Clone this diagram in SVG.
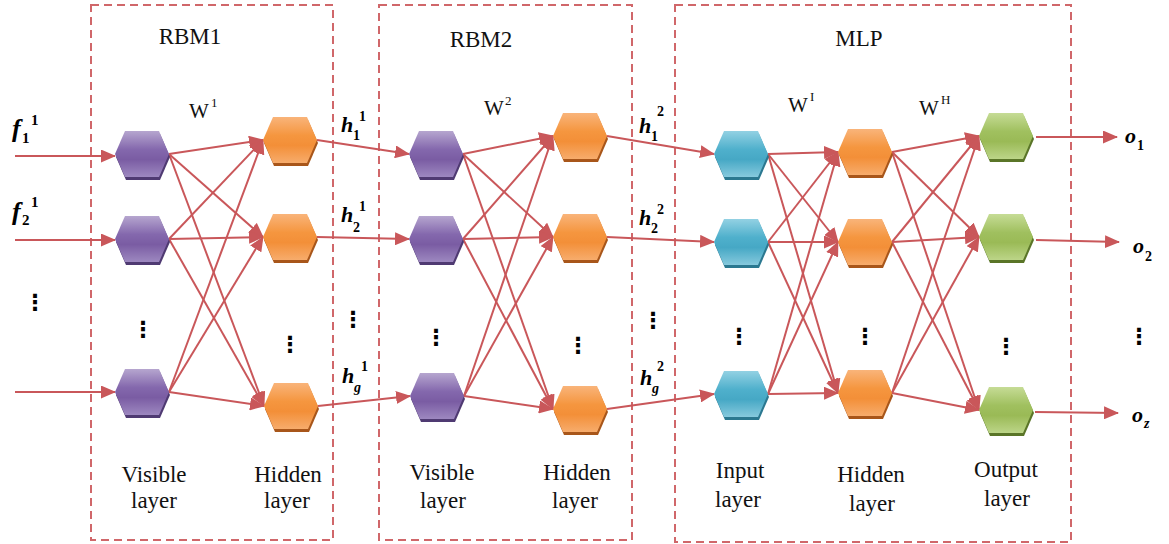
<svg xmlns="http://www.w3.org/2000/svg" width="1169" height="544" viewBox="0 0 1169 544">
<defs>
<style>
.box{fill:none;stroke:#d0676a;stroke-width:2;stroke-dasharray:8 5}
.ln{stroke:#c9575a;stroke-width:2;fill:none;marker-end:url(#ah)}
.t{font-size:23px;fill:#111;text-anchor:middle}
.w{font-size:21px;fill:#111}
.ws{font-size:13px}
.bi{font-weight:bold;font-style:italic;fill:#000}
.bs{font-weight:bold;font-style:normal;fill:#000}
.dots{font-weight:bold;font-size:22px;fill:#000;text-anchor:middle}
</style>
<marker id="ah" viewBox="0 0 15 13" refX="14" refY="6.5" markerWidth="15" markerHeight="13" markerUnits="userSpaceOnUse" orient="auto"><path d="M0,0 L15,6.5 L0,13 Z" fill="#c9575a"/></marker>
<path id="hex" d="M-27,0 L-17,-23 L17,-23 L27,0 L17,23 L-17,23 Z"/>
<linearGradient id="gP" x1="0" y1="0" x2="0" y2="1"><stop offset="0" stop-color="#b6a6cf"/><stop offset="0.4" stop-color="#8468ad"/><stop offset="0.62" stop-color="#7a5ca3"/><stop offset="1" stop-color="#9d88c0"/></linearGradient>
<linearGradient id="gO" x1="0" y1="0" x2="0" y2="1"><stop offset="0" stop-color="#f9b47a"/><stop offset="0.4" stop-color="#f5963f"/><stop offset="0.62" stop-color="#f38f38"/><stop offset="1" stop-color="#f7ac6c"/></linearGradient>
<linearGradient id="gC" x1="0" y1="0" x2="0" y2="1"><stop offset="0" stop-color="#93d1e3"/><stop offset="0.4" stop-color="#4fb0cc"/><stop offset="0.62" stop-color="#46a8c5"/><stop offset="1" stop-color="#86c9dd"/></linearGradient>
<linearGradient id="gG" x1="0" y1="0" x2="0" y2="1"><stop offset="0" stop-color="#c6dc96"/><stop offset="0.4" stop-color="#a0c05f"/><stop offset="0.62" stop-color="#9aba56"/><stop offset="1" stop-color="#bcd588"/></linearGradient>
<g id="hP"><use href="#hex" transform="translate(1,3)" fill="#4f3a72"/><use href="#hex" fill="url(#gP)"/></g>
<g id="hO"><use href="#hex" transform="translate(1,3)" fill="#a8561a"/><use href="#hex" fill="url(#gO)"/></g>
<g id="hC"><use href="#hex" transform="translate(1,3)" fill="#2b7890"/><use href="#hex" fill="url(#gC)"/></g>
<g id="hG"><use href="#hex" transform="translate(1,3)" fill="#5a7528"/><use href="#hex" fill="url(#gG)"/></g>
</defs>
<rect width="1169" height="544" fill="#fff"/>

<g id="boxes">
<rect id="rbm1-box" class="box" x="91" y="5" width="242" height="535"/>
<rect id="rbm2-box" class="box" x="379" y="5" width="253" height="535"/>
<rect id="mlp-box" class="box" x="675" y="5" width="396" height="537"/>
</g>

<g id="connectors">
<line class="ln" x1="15" y1="156" x2="115" y2="156"/>
<line class="ln" x1="15" y1="240" x2="115" y2="240"/>
<line class="ln" x1="15" y1="392" x2="115" y2="392"/>
<line class="ln" x1="169" y1="154" x2="263" y2="140"/>
<line class="ln" x1="169" y1="154" x2="263" y2="237"/>
<line class="ln" x1="169" y1="154" x2="264" y2="406"/>
<line class="ln" x1="169" y1="239" x2="263" y2="140"/>
<line class="ln" x1="169" y1="239" x2="263" y2="237"/>
<line class="ln" x1="169" y1="239" x2="264" y2="406"/>
<line class="ln" x1="169" y1="392" x2="263" y2="140"/>
<line class="ln" x1="169" y1="392" x2="263" y2="237"/>
<line class="ln" x1="169" y1="392" x2="264" y2="406"/>
<line class="ln" x1="317" y1="140" x2="409" y2="154"/>
<line class="ln" x1="317" y1="237" x2="409" y2="239"/>
<line class="ln" x1="318" y1="406" x2="410" y2="396"/>
<line class="ln" x1="463" y1="154" x2="553" y2="136"/>
<line class="ln" x1="463" y1="154" x2="553" y2="237"/>
<line class="ln" x1="463" y1="154" x2="553" y2="409"/>
<line class="ln" x1="463" y1="239" x2="553" y2="136"/>
<line class="ln" x1="463" y1="239" x2="553" y2="237"/>
<line class="ln" x1="463" y1="239" x2="553" y2="409"/>
<line class="ln" x1="464" y1="396" x2="553" y2="136"/>
<line class="ln" x1="464" y1="396" x2="553" y2="237"/>
<line class="ln" x1="464" y1="396" x2="553" y2="409"/>
<line class="ln" x1="607" y1="136" x2="714" y2="154"/>
<line class="ln" x1="607" y1="237" x2="714" y2="242"/>
<line class="ln" x1="607" y1="409" x2="714" y2="394"/>
<line class="ln" x1="768" y1="154" x2="838" y2="152"/>
<line class="ln" x1="768" y1="154" x2="838" y2="242"/>
<line class="ln" x1="768" y1="154" x2="838" y2="393"/>
<line class="ln" x1="768" y1="242" x2="838" y2="152"/>
<line class="ln" x1="768" y1="242" x2="838" y2="242"/>
<line class="ln" x1="768" y1="242" x2="838" y2="393"/>
<line class="ln" x1="768" y1="394" x2="838" y2="152"/>
<line class="ln" x1="768" y1="394" x2="838" y2="242"/>
<line class="ln" x1="768" y1="394" x2="838" y2="393"/>
<line class="ln" x1="892" y1="152" x2="979" y2="136"/>
<line class="ln" x1="892" y1="152" x2="979" y2="237"/>
<line class="ln" x1="892" y1="152" x2="979" y2="410"/>
<line class="ln" x1="892" y1="242" x2="979" y2="136"/>
<line class="ln" x1="892" y1="242" x2="979" y2="237"/>
<line class="ln" x1="892" y1="242" x2="979" y2="410"/>
<line class="ln" x1="892" y1="393" x2="979" y2="136"/>
<line class="ln" x1="892" y1="393" x2="979" y2="237"/>
<line class="ln" x1="892" y1="393" x2="979" y2="410"/>
<line class="ln" x1="1036" y1="137" x2="1117" y2="137"/>
<line class="ln" x1="1036" y1="240" x2="1119" y2="242"/>
<line class="ln" x1="1035" y1="412" x2="1118" y2="413"/>
</g>

<g id="rbm1-v1"><use href="#hP" x="142" y="154"/></g>
<g id="rbm1-v2"><use href="#hP" x="142" y="239"/></g>
<g id="rbm1-v3"><use href="#hP" x="142" y="392"/></g>
<g id="rbm1-h1"><use href="#hO" x="290" y="140"/></g>
<g id="rbm1-h2"><use href="#hO" x="290" y="237"/></g>
<g id="rbm1-h3"><use href="#hO" x="291" y="406"/></g>
<g id="rbm2-v1"><use href="#hP" x="436" y="154"/></g>
<g id="rbm2-v2"><use href="#hP" x="436" y="239"/></g>
<g id="rbm2-v3"><use href="#hP" x="437" y="396"/></g>
<g id="rbm2-h1"><use href="#hO" x="580" y="136"/></g>
<g id="rbm2-h2"><use href="#hO" x="580" y="237"/></g>
<g id="rbm2-h3"><use href="#hO" x="580" y="409"/></g>
<g id="mlp-i1"><use href="#hC" x="741" y="154"/></g>
<g id="mlp-i2"><use href="#hC" x="741" y="242"/></g>
<g id="mlp-i3"><use href="#hC" x="741" y="394"/></g>
<g id="mlp-h1"><use href="#hO" x="865" y="152"/></g>
<g id="mlp-h2"><use href="#hO" x="865" y="242"/></g>
<g id="mlp-h3"><use href="#hO" x="865" y="393"/></g>
<g id="mlp-o1"><use href="#hG" x="1006" y="136"/></g>
<g id="mlp-o2"><use href="#hG" x="1006" y="237"/></g>
<g id="mlp-o3"><use href="#hG" x="1006" y="410"/></g>

<g id="titles" font-family="'Liberation Serif', 'Times New Roman', 'DejaVu Serif', serif">
<text class="t" x="190" y="44">RBM1</text>
<text class="t" x="481" y="47">RBM2</text>
<text class="t" x="859" y="46">MLP</text>
<text class="w" x="189" y="118">W<tspan class="ws" x="211" y="107">1</tspan></text>
<text class="w" x="484" y="115">W<tspan class="ws" x="505" y="105">2</tspan></text>
<text class="w" x="788" y="112">W<tspan class="ws" x="810" y="101">I</tspan></text>
<text class="w" x="919" y="115">W<tspan class="ws" x="941" y="104">H</tspan></text>
</g>

<g id="layer-labels" font-family="'Liberation Serif', 'Times New Roman', 'DejaVu Serif', serif">
<text class="t" x="154" y="482">Visible</text><text class="t" x="154" y="508">layer</text>
<text class="t" x="288" y="482">Hidden</text><text class="t" x="287" y="508">layer</text>
<text class="t" x="442" y="480">Visible</text><text class="t" x="443" y="508">layer</text>
<text class="t" x="577" y="480">Hidden</text><text class="t" x="575" y="508">layer</text>
<text class="t" x="740" y="478">Input</text><text class="t" x="738" y="507">layer</text>
<text class="t" x="871" y="482">Hidden</text><text class="t" x="872" y="511">layer</text>
<text class="t" x="1006" y="477">Output</text><text class="t" x="1007" y="506">layer</text>
</g>

<g id="io-labels" font-family="'Liberation Serif', 'Times New Roman', 'DejaVu Serif', serif">
<text class="bi" font-size="26" x="12" y="137">f<tspan class="bs" font-size="15" x="22" y="143">1</tspan><tspan class="bs" font-size="15" x="31" y="125">1</tspan></text>
<text class="bi" font-size="26" x="12" y="220">f<tspan class="bs" font-size="15" x="22" y="225">2</tspan><tspan class="bs" font-size="15" x="31" y="207">1</tspan></text>
<text class="bi" font-size="22" x="341" y="132">h<tspan class="bs" font-size="14" x="353" y="140">1</tspan><tspan class="bs" font-size="14" x="359" y="121">1</tspan></text>
<text class="bi" font-size="22" x="341" y="222">h<tspan class="bs" font-size="14" x="353" y="232">2</tspan><tspan class="bs" font-size="14" x="359" y="211">1</tspan></text>
<text class="bi" font-size="22" x="342" y="383">h<tspan class="bi" font-size="14" x="354" y="392">g</tspan><tspan class="bs" font-size="14" x="361" y="371">1</tspan></text>
<text class="bi" font-size="22" x="639" y="133">h<tspan class="bs" font-size="14" x="651" y="141">1</tspan><tspan class="bs" font-size="14" x="657" y="116">2</tspan></text>
<text class="bi" font-size="22" x="639" y="225">h<tspan class="bs" font-size="14" x="651" y="233">2</tspan><tspan class="bs" font-size="14" x="657" y="214">2</tspan></text>
<text class="bi" font-size="22" x="640" y="385">h<tspan class="bi" font-size="14" x="652" y="393">g</tspan><tspan class="bs" font-size="14" x="657" y="371">2</tspan></text>
<text class="bi" font-size="22" x="1125" y="143">o<tspan class="bs" font-size="14" x="1137" y="150">1</tspan></text>
<text class="bi" font-size="22" x="1133" y="253">o<tspan class="bs" font-size="14" x="1145" y="261">2</tspan></text>
<text class="bi" font-size="22" x="1132" y="422">o<tspan class="bi" font-size="14" x="1144" y="428">z</tspan></text>
</g>

<g id="ellipses" font-family="'DejaVu Sans', sans-serif">
<text class="dots" x="35" y="310">⋮</text>
<text class="dots" x="143" y="337">⋮</text>
<text class="dots" x="290" y="352">⋮</text>
<text class="dots" x="353" y="327">⋮</text>
<text class="dots" x="436" y="345">⋮</text>
<text class="dots" x="578" y="353">⋮</text>
<text class="dots" x="653" y="328">⋮</text>
<text class="dots" x="739" y="344">⋮</text>
<text class="dots" x="865" y="344">⋮</text>
<text class="dots" x="1006" y="354">⋮</text>
<text class="dots" x="1139" y="344">⋮</text>
</g>
</svg>
